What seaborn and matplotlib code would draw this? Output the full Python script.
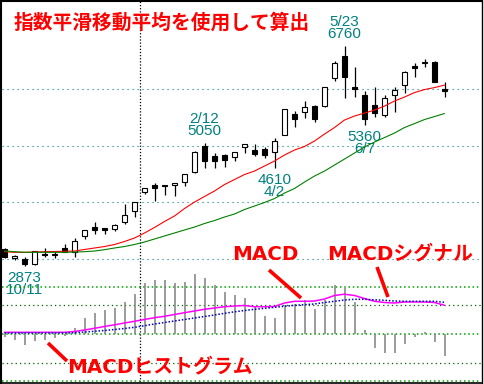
import matplotlib
matplotlib.use("Agg")
import matplotlib.pyplot as plt
import seaborn as sns
import pandas as pd
from matplotlib.lines import Line2D

# ---------------- data (weekly candles) ----------------
weeks = list(range(45))
opens = [3180, 3012, 3000, 2917, 3097, 3070, 3189, 3118, 3400, 3564,
         3540, 3535, 3647, 3841, 4191, 4305, 4305, 4300, 4364, 4540,
         4999, 4817, 4835, 4799, 4981, 4923, 4935, 4882, 5193, 5553,
         5588, 5699, 5699, 6188, 6581, 6034, 5888, 5711, 5535, 5893,
         6069, 6405, 6460, 6482, 6008]
closes = [3030, 3058, 2917, 3141, 3070, 3090, 3129, 3318, 3506, 3517,
          3517, 3594, 3771, 4000, 4247, 4247, 4282, 4340, 4494, 4893,
          4723, 4723, 4741, 4893, 5023, 4858, 4841, 5076, 5641, 5464,
          5688, 5476, 6029, 6452, 6216, 5993, 5464, 5570, 5835, 5981,
          6299, 6376, 6470, 6131, 5967]
highs = [3200, 3070, 3030, 3141, 3189, 3129, 3265, 3370, 3506, 3647,
         3540, 3617, 3976, 4000, 4247, 4335, 4305, 4340, 4494, 4905,
         5050, 4865, 4850, 4893, 5030, 5023, 4970, 5129, 5641, 5611,
         5787, 5717, 6029, 6499, 6760, 6392, 5969, 6029, 5893, 6029,
         6316, 6463, 6528, 6493, 6131]
lows = [3010, 2982, 2873, 2900, 3035, 3012, 3123, 3041, 3348, 3441,
        3446, 3500, 3612, 3746, 4147, 4018, 4129, 4111, 4293, 4511,
        4611, 4611, 4617, 4723, 4875, 4823, 4782, 4610, 5193, 5334,
        5482, 5422, 5688, 6145, 5835, 5852, 5360, 5500, 5500, 5598,
        5934, 6216, 6382, 6131, 5866]

ema_short = [3129, 3118, 3118, 3123, 3129, 3132, 3136, 3141, 3168, 3194,
             3220, 3256, 3309, 3370, 3459, 3556, 3662, 3759, 3891, 4005,
             4103, 4200, 4314, 4402, 4491, 4552, 4641, 4729, 4835, 4923,
             4985, 5082, 5205, 5320, 5452, 5523, 5575, 5628, 5699, 5787,
             5858, 5937, 5990, 6025, 6069]
ema_long = [3141, 3129, 3118, 3118, 3118, 3118, 3118, 3123, 3129, 3141,
            3164, 3194, 3220, 3256, 3300, 3353, 3406, 3459, 3512, 3564,
            3626, 3679, 3741, 3794, 3873, 3935, 3997, 4067, 4164, 4244,
            4358, 4464, 4552, 4658, 4764, 4870, 4976, 5064, 5143, 5223,
            5320, 5390, 5461, 5514, 5567]

macd = [2.0, 2.0, 2.0, 2.0, 2.0, 2.0, 2.0, 2.8, 4.3, 6.0,
        7.8, 9.5, 11.3, 13.0, 14.8, 16.6, 18.0, 19.8, 21.6, 23.3,
        25.0, 26.3, 27.6, 28.3, 28.8, 27.6, 27.6, 27.8, 31.3, 33.0,
        33.0, 33.3, 35.3, 38.8, 40.1, 38.8, 35.8, 33.0, 31.8, 31.3,
        32.3, 32.3, 32.3, 31.8, 29.0]
signal = [1.3, 1.3, 1.3, 1.3, 1.3, 1.3, 1.3, 1.5, 2.3, 3.0,
          3.8, 4.8, 5.8, 7.0, 8.6, 10.3, 11.8, 13.3, 14.8, 16.3,
          17.8, 19.3, 21.0, 22.5, 23.8, 25.0, 26.0, 27.0, 28.0, 29.0,
          29.6, 30.3, 31.8, 33.0, 34.3, 35.0, 35.0, 34.5, 34.0, 33.3,
          33.0, 33.0, 33.0, 33.0, 32.0]
hist = [-2.4, -5.7, -10.7, -6.7, -5.7, -3.4, -1.4, 6.3, 16.0, 21.3,
        24.3, 26.3, 32.3, 40.3, 51.0, 54.3, 54.3, 51.0, 52.0, 60.3,
        56.0, 49.3, 42.0, 39.3, 36.6, 27.6, 18.3, 16.3, 29.3, 30.3,
        34.3, 25.3, 34.3, 49.6, 46.6, 32.3, 4.3, -13.4, -18.4, -18.4,
        -9.7, -2.4, 2.3, -8.2, -21.4]

label_dates = ["10/11", "2/12", "4/2", "5/23", "6/7"]
label_idx = [2, 20, 27, 34, 36]
label_prices = [2873, 5050, 4610, 6760, 5360]
label_side = ["low", "high", "low", "high", "low"]

title_text = "指数平滑移動平均を使用して算出"
price_grid = [3000, 4000, 5000, 6000]
macd_grid_major = [47.3, 0.0, -47.0]
macd_grid_minor = [29.0, -29.0]
year_break = 13.5

df = pd.DataFrame({"week": weeks, "open": opens, "close": closes,
                   "high": highs, "low": lows, "ema_s": ema_short,
                   "ema_l": ema_long, "macd": macd, "signal": signal,
                   "hist": hist})

# ---------------- style ----------------
sns.set_theme(style="white")
plt.rcParams["font.family"] = ["DejaVu Sans", "Noto Sans CJK JP"]

W, H = 484, 384
fig = plt.figure(figsize=(W / 100, H / 100), dpi=100)
fig.patch.set_facecolor("white")


def frect(x0, y0, x1, y1):
    return [x0 / W, 1 - y1 / H, (x1 - x0) / W, (y1 - y0) / H]


PX = 1000 / ((259 - 89) / 3)  # price per pixel
XL = (-0.25, 47.65)
YL1 = (3000 - 28 * PX, 6000 + 88 * PX)
YL2 = (-47.7, 69.3)

ax = fig.add_axes(frect(2, 1, 481, 287))
ax2 = fig.add_axes(frect(2, 265, 481, 382))
ax2.patch.set_alpha(0)

# grid lines
for g in price_grid:
    ax.axhline(g, color="#008080", lw=0.8, ls=(0, (1, 3.5)), zorder=1)
for g in macd_grid_major:
    ax2.axhline(g, color="#00a000", lw=1.1, ls=(0, (1, 1.8)), zorder=1)
for g in macd_grid_minor:
    ax2.axhline(g, color="#006400", lw=0.9, ls=(0, (1, 2.5)), zorder=1)
ax.axvline(year_break, color="black", lw=0.9, ls=(0, (1, 1.5)), zorder=1)
ax2.axvline(year_break, ymin=0, ymax=(382 - 287) / (382 - 265),
            color="black", lw=0.9, ls=(0, (1, 1.5)), zorder=1)

# candles
body_bottom = [min(o, c) for o, c in zip(opens, closes)]
body_height = [abs(c - o) for o, c in zip(opens, closes)]
fills = ["black" if c < o else "white" for o, c in zip(opens, closes)]
ax.vlines(df["week"], df["low"], df["high"], colors="black", lw=0.9, zorder=3)
ax.bar(df["week"], body_height, bottom=body_bottom, width=0.58,
       color=fills, edgecolor="black", linewidth=0.8, zorder=4)

# moving averages
sns.lineplot(data=df, x="week", y="ema_s", color="#ff0000", lw=0.8, ax=ax, zorder=5)
sns.lineplot(data=df, x="week", y="ema_l", color="#008000", lw=0.8, ax=ax, zorder=5)

# MACD panel
ax2.vlines(df["week"], 0, df["hist"], colors="#808080", lw=1.1, zorder=2)
sns.lineplot(data=df, x="week", y="macd", color="#ff00ff", lw=1.1, ax=ax2, zorder=4)
sns.lineplot(data=df, x="week", y="signal", color="#0000c0", lw=1.1,
             ls=(0, (1, 1.2)), ax=ax2, zorder=5)

for a, yl in ((ax, YL1), (ax2, YL2)):
    a.set_xlim(*XL)
    a.set_ylim(*yl)
    a.axis("off")

# price labels (date above / below price, as in a two-line tag)
teal = "#008080"
lab_font = dict(family=["Liberation Sans", "DejaVu Sans"], fontsize=11,
                color=teal, ha="center", va="center", linespacing=0.82,
                annotation_clip=False, textcoords="offset points")
for d, i, p, s in zip(label_dates, label_idx, label_prices, label_side):
    if s == "high":
        ax.annotate(f"{d}\n{p}", (i, p), xytext=(0, 18 * 0.72), **lab_font)
    else:
        ax.annotate(f"{p}\n{d}", (i, p), xytext=(0, -18 * 0.72), **lab_font)

# title and callouts
fig.text(14 / W, 1 - 23 / H, title_text, color="#ff0000", fontsize=14.2,
         fontweight="bold", family=["Noto Sans CJK JP"], ha="left", va="center")
red_font = dict(color="#ff0000", fontsize=14.3, fontweight="bold",
                family=["DejaVu Sans", "Noto Sans CJK JP"], va="center")
fig.text(265 / W, 1 - 255 / H, "MACD", ha="center", **red_font)
fig.text(400 / W, 1 - 254 / H, "MACDシグナル", ha="center", **red_font)
fig.text(160 / W, 1 - 367 / H, "MACDヒストグラム", ha="center", **red_font)

for (x0, y0, x1, y1) in [(269, 270, 301, 298), (377, 267, 388, 297), (48, 343, 67, 361)]:
    fig.add_artist(Line2D([x0 / W, x1 / W], [1 - y0 / H, 1 - y1 / H],
                          color="#ff0000", lw=2.6, solid_capstyle="butt"))

# outer frame
fig.add_artist(Line2D([1 / W, 1 / W], [0, 1], color="black", lw=1.5))
fig.add_artist(Line2D([0, 482 / W], [1 - 1 / H, 1 - 1 / H], color="black", lw=1.5))
fig.add_artist(Line2D([481.5 / W, 481.5 / W], [0, 1], color="black", lw=1.0))
fig.add_artist(Line2D([0, 482 / W], [1 - 383 / H, 1 - 383 / H], color="black", lw=1.2))

fig.savefig("out.png", dpi=100, facecolor="white")
